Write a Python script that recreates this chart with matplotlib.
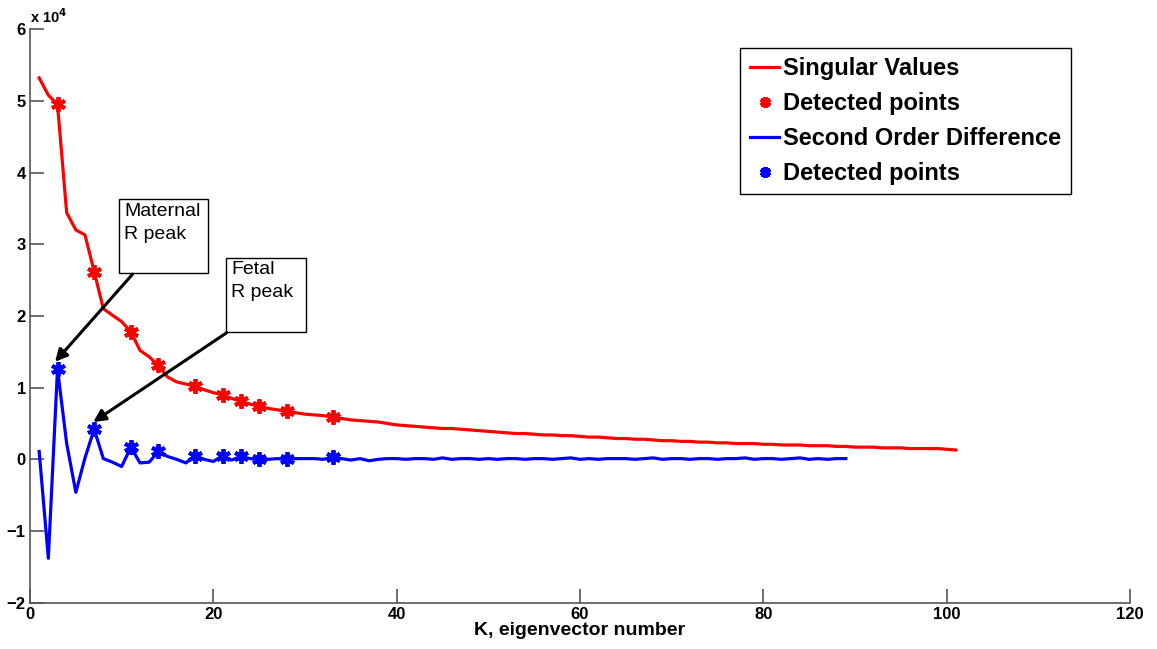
import matplotlib
matplotlib.use("Agg")
import matplotlib.pyplot as plt
from matplotlib.patches import Rectangle
import numpy as np

plt.rcParams["font.family"] = ["Liberation Sans", "DejaVu Sans"]

# Singular values (x 10^4) for eigenvectors 1..101
singular_values = [
    5.32, 5.08, 4.95, 3.44, 3.20, 3.13, 2.62, 2.10, 2.01, 1.92,
    1.78, 1.52, 1.43, 1.31, 1.15, 1.08, 1.05, 1.02, 0.97, 0.93,
    0.90, 0.85, 0.81, 0.77, 0.74, 0.71, 0.69, 0.67, 0.65, 0.63,
    0.62, 0.61, 0.59, 0.57, 0.55, 0.54, 0.53, 0.52, 0.50, 0.48,
    0.47, 0.46, 0.45, 0.44, 0.43, 0.43, 0.42, 0.41, 0.40, 0.39,
    0.38, 0.37, 0.36, 0.36, 0.35, 0.34, 0.34, 0.33, 0.33, 0.32,
    0.31, 0.31, 0.30, 0.29, 0.29, 0.28, 0.28, 0.27, 0.26, 0.26,
    0.25, 0.25, 0.24, 0.24, 0.23, 0.23, 0.22, 0.22, 0.22, 0.21,
    0.21, 0.20, 0.20, 0.20, 0.19, 0.19, 0.19, 0.18, 0.18, 0.17,
    0.17, 0.17, 0.16, 0.16, 0.16, 0.15, 0.15, 0.15, 0.15, 0.14,
    0.13,
]

# Second order difference (x 10^4) for eigenvectors 1..89
second_diff = [
    0.11, -1.38, 1.26, 0.22, -0.46, 0.02, 0.42, 0.01, -0.04, -0.10,
    0.17, -0.05, -0.04, 0.11, 0.04, 0.00, -0.05, 0.05, 0.00, -0.03,
    0.05, -0.01, 0.04, 0.01, 0.00, 0.00, 0.01, 0.00, 0.01, 0.01,
    0.01, 0.00, 0.03, 0.01, -0.01, 0.01, -0.02, 0.00, 0.01,
    0.01, 0.00, 0.01, 0.01, 0.00, 0.02, 0.00, 0.01, 0.01, 0.00,
    0.01, 0.00, 0.01, 0.01, 0.00, 0.01, 0.01, 0.00, 0.01, 0.02,
    0.00, 0.01, 0.00, 0.01, 0.01, 0.01, 0.00, 0.01, 0.02, 0.00,
    0.01, 0.01, 0.00, 0.01, 0.01, 0.00, 0.01, 0.01, 0.02, 0.00,
    0.01, 0.01, 0.00, 0.01, 0.02, 0.00, 0.01, 0.00, 0.01, 0.01,
]

detected_k = [3, 7, 11, 14, 18, 21, 23, 25, 28, 33]

k_sv = np.arange(1, len(singular_values) + 1)
k_sd = np.arange(1, len(second_diff) + 1)
sv = np.array(singular_values)
sd = np.array(second_diff)
idx = np.array(detected_k) - 1

fig = plt.figure(figsize=(11.57, 6.49), dpi=100)
ax = fig.add_axes([30 / 1157, 1 - 602.7 / 649, 1100 / 1157, 573.5 / 649])

asterisk = (6, 2, 0)
ax.plot(k_sv, sv, color="red", lw=2.3, label="Singular Values")
ax.plot(k_sv[idx], sv[idx], ls="none", marker=asterisk, ms=10.5, mew=2.8,
        color="red", label="Detected points")
ax.plot(k_sd, sd, color="blue", lw=2.3, label="Second Order Difference")
ax.plot(k_sd[idx], sd[idx], ls="none", marker=asterisk, ms=10.5, mew=2.8,
        color="blue", label="Detected points")

ax.set_xlim(0, 120)
ax.set_ylim(-2, 6)
ax.set_xticks(np.arange(0, 121, 20))
ax.set_yticks(np.arange(-2, 7, 1))
ax.spines["top"].set_visible(False)
ax.spines["right"].set_visible(False)
for s in ("left", "bottom"):
    ax.spines[s].set_color("#555555")
    ax.spines[s].set_linewidth(1.2)
ax.tick_params(direction="in", length=10, width=1.2, color="#555555",
               labelsize=12, pad=3)
for lab in ax.get_xticklabels() + ax.get_yticklabels():
    lab.set_fontweight("bold")

ax.set_xlabel("K, eigenvector number", fontsize=14, fontweight="bold",
              labelpad=0)
ax.text(0.0, 1.005, "x 10$^{\\mathbf{4}}$", transform=ax.transAxes,
        fontsize=10.5, fontweight="bold", ha="left", va="bottom")

leg = ax.legend(loc="upper right", bbox_to_anchor=(1071 / 1157, 1 - 48 / 649),
                bbox_transform=fig.transFigure, borderaxespad=0,
                fancybox=False, edgecolor="black", framealpha=1,
                prop={"weight": "bold", "size": 17}, handlelength=1.25,
                handletextpad=0.17, labelspacing=0.5, borderpad=0.4,
                markerscale=0.75)
leg.get_frame().set_linewidth(1.0)

# Text arrows pointing at the R peaks: (box corners, text anchor, arrow tail, arrow head)
callouts = [
    ("Maternal\nR peak", (9.74, 2.594), (19.45, 3.635), (10.25, 3.58),
     (11.2, 2.584), (2.73, 1.36)),
    ("Fetal\nR peak", (21.35, 1.771), (30.11, 2.812), (21.93, 2.76),
     (21.46, 1.766), (6.9, 0.52)),
]
for label, (x0, y0), (x1, y1), txt_xy, tail, head in callouts:
    ax.add_patch(Rectangle((x0, y0), x1 - x0, y1 - y0, fc="white",
                           ec="black", lw=1.0, zorder=4))
    ax.text(txt_xy[0], txt_xy[1], label, fontsize=14, ha="left", va="top",
            linespacing=1.45, zorder=5)
    ax.annotate("", xy=head, xytext=tail,
                arrowprops=dict(arrowstyle="-|>", color="black", lw=2.2,
                                mutation_scale=18, shrinkA=0, shrinkB=0),
                zorder=5)

fig.savefig("out.png", dpi=100)
